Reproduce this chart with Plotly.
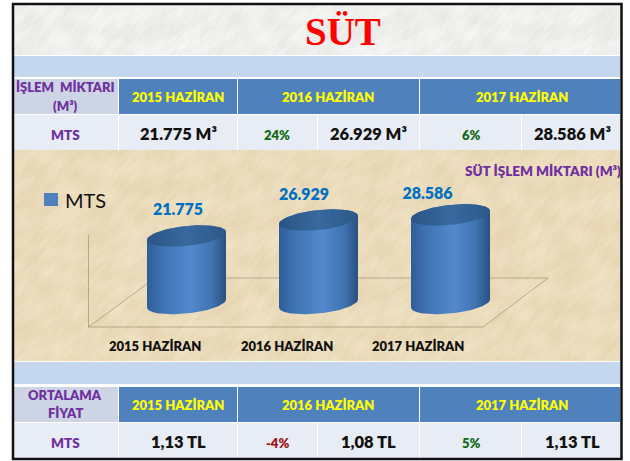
import base64, zlib, struct
import numpy as np
import plotly.graph_objects as go

CATEGORIES = ["2015 HAZİRAN", "2016 HAZİRAN", "2017 HAZİRAN"]
VOLUME = [21775, 26929, 28586]
VOLUME_LABELS = ["21.775", "26.929", "28.586"]
VOLUME_CELLS = ["21.775 M³", "26.929 M³", "28.586 M³"]
VOLUME_CHANGE = ["24%", "6%"]
PRICE_CELLS = ["1,13 TL", "1,08 TL", "1,13 TL"]
PRICE_CHANGE = ["-4%", "5%"]
SERIES = "MTS"
W, H = 630, 461

def texture(w, h, base, dark, scale, amount):
    yy, xx = np.mgrid[0:h, 0:w].astype(float)
    n = np.zeros((h, w))
    waves = [(.13, .07, 1), (.05, .19, .8), (.31, .23, .6), (.43, .61, .5), (.71, .37, .4), (.9, 1.1, .4), (1.3, .8, .4), (1.7, 2.3, .3), (2.9, 1.9, .3)]
    for i, (a, b, c) in enumerate(waves):
        n += c * np.sin(scale * (a * xx + b * yy) + i * 1.7 + 3 * np.sin(.031 * xx - .053 * yy + i * 2.1))
    n = np.clip(.5 + amount * n / 4, 0, 1)[..., None]
    img = (np.array(base) * (1 - n) + np.array(dark) * n).astype(np.uint8)
    raw = b"".join(b"\0" + r.tobytes() for r in img)
    def ch(t, d):
        return struct.pack(">I", len(d)) + t + d + struct.pack(">I", zlib.crc32(t + d))
    png = b"\x89PNG\r\n\x1a\n" + ch(b"IHDR", struct.pack(">IIBBBBB", w, h, 8, 2, 0, 0, 0)) + ch(b"IDAT", zlib.compress(raw)) + ch(b"IEND", b"")
    return "data:image/png;base64," + base64.b64encode(png).decode()

FONT = "Lato"
BLUE, PALE, GREY, BAND = "#4F81BD", "#E8ECF4", "#CDD4E4", "#C5D7EE"
YEL, PUR, GRN, RED = "#FFFF00", "#7030A0", "#0F6A12", "#A01015"

fig = go.Figure()
shapes, ann = [], []

def rect(x0, y0, x1, y1, fill):
    shapes.append(dict(type="rect", xref="paper", yref="paper", x0=x0 / W, x1=x1 / W, y0=1 - y0 / H, y1=1 - y1 / H,
                       fillcolor=fill, line_width=0, layer="below"))

def text(x, y, s, size, color, weight=800, font=FONT):
    ann.append(dict(xref="paper", yref="paper", x=x / W, y=1 - y / H, text=s, showarrow=False,
                    xanchor="center", yanchor="middle", font=dict(family=font, size=size, color=color, weight=weight)))

def table(top, label, cells, changes, label_ys):
    r1 = top + 36
    r2 = top + 71
    rect(14, top, 118, r1 - 1, GREY)
    rect(119, top, 237, r1 - 1, BLUE)
    rect(238, top, 419, r1 - 1, BLUE)
    rect(420, top, 620, r1 - 1, BLUE)
    for a, b in [(14, 118), (119, 237), (238, 317), (318, 419), (420, 521), (522, 620)]:
        rect(a, r1, b, r2, PALE)
    text(178, top + 18, CATEGORIES[0], 13, YEL)
    text(328, top + 18, CATEGORIES[1], 13, YEL)
    text(522, top + 18, CATEGORIES[2], 13, YEL)
    text(65, r1 + 20, SERIES, 13.5, PUR)
    text(178, r1 + 19, cells[0], 16.5, "#111111")
    text(277, r1 + 20, changes[0], 13, GRN if not changes[0].startswith("-") else RED)
    text(368, r1 + 19, cells[1], 16.5, "#111111")
    text(471, r1 + 20, changes[1], 13, GRN)
    text(572, r1 + 19, cells[2], 16.5, "#111111")
    for line, y in zip(label, label_ys):
        text(65, y, line, 13, PUR)

rect(14, 56, 620, 77, BAND)
rect(14, 362, 620, 384, BAND)
table(79, ["İŞLEM  MİKTARI", "(M³)"], VOLUME_CELLS, VOLUME_CHANGE, [87, 106])
table(387, ["ORTALAMA", "FİYAT"], PRICE_CELLS, PRICE_CHANGE, [395, 413])
text(343, 31, "SÜT", 39, "#FF0000", weight=700, font="Liberation Serif")
text(542.5, 171, "SÜT İŞLEM MİKTARI (M³)", 13.5, PUR)
text(85, 200, SERIES, 20, "#111111", weight=400)
rect(44, 193, 58, 206, BLUE)
for i, c in enumerate(CATEGORIES):
    text(155 + 131.5 * i, 346, c, 13, "#111111")

for x0, y0, x1, y1 in [(88.5, 235, 88.5, 327), (88.5, 327, 483, 327), (483, 327, 548, 278), (88.5, 327, 155, 278), (155, 278, 548, 278)]:
    shapes.append(dict(type="line", xref="paper", yref="paper", x0=x0 / W, x1=x1 / W, y0=1 - y0 / H, y1=1 - y1 / H,
                       line=dict(color="rgba(130,120,90,0.5)", width=1), layer="below"))

shapes.append(dict(type="rect", xref="paper", yref="paper", x0=13 / W, x1=621.5 / W, y0=1 - 4 / H, y1=1 - 459 / H,
                   line=dict(color="#111111", width=2.5), fillcolor="rgba(0,0,0,0)", layer="above"))

# value axis: zero at px 303.5, 0.0031 px per unit; category axis: 132 px per step from px 186.5
PX_PER = 0.0031
ZERO = 303.5
yr = [(ZERO - H) / PX_PER, ZERO / PX_PER]
xr = [-186.5 / 132, (W - 186.5) / 132]
HALF = 39.5 / 132
RY = 10 / PX_PER
TILT = 4 / PX_PER
LABEL_DX = [-8.5 / 132, -14.5 / 132, -23 / 132]
LABEL_DY = [25.5 / PX_PER, 24.5 / PX_PER, 19.5 / PX_PER]
t = np.linspace(0, 2 * np.pi, 121)

for i, v in enumerate(VOLUME):
    front = np.linspace(np.pi, 2 * np.pi, 61)
    xb = i + HALF * np.cos(front)
    yb = RY * np.sin(front) + TILT * np.cos(front)
    xt = xb[::-1]
    yt = v + RY * np.sin(front[::-1]) * -1 + TILT * np.cos(front[::-1])
    fig.add_trace(go.Scatter(x=np.r_[xb, xt, xb[0]], y=np.r_[yb, yt, yb[0]], mode="lines", fill="toself", line=dict(width=0),
                             fillgradient=dict(type="horizontal", colorscale=[[0, "#2F5D96"], [.2, "#3F74B4"], [.55, "#5389CE"], [.82, "#3F74B2"], [1, "#29507F"]]),
                             hoverinfo="skip", showlegend=False))
    fig.add_trace(go.Scatter(x=i + HALF * np.cos(t), y=v + RY * np.sin(t) + TILT * np.cos(t), mode="lines", fill="toself", line=dict(width=0),
                             fillgradient=dict(type="horizontal", colorscale=[[0, "#2A5484"], [.5, "#38699F"], [1, "#2B5888"]]),
                             hoverinfo="skip", showlegend=False))
    fig.add_trace(go.Scatter(x=[i + LABEL_DX[i]], y=[v + LABEL_DY[i]], mode="text", text=[VOLUME_LABELS[i]],
                             textfont=dict(family=FONT, size=16, color="#0070C0", weight=800), hoverinfo="skip", showlegend=False))

fig.update_layout(
    width=W, height=H, margin=dict(l=0, r=0, t=0, b=0), paper_bgcolor="white", plot_bgcolor="rgba(0,0,0,0)",
    xaxis=dict(range=xr, visible=False, fixedrange=True), yaxis=dict(range=yr, visible=False, fixedrange=True),
    shapes=shapes, annotations=ann, showlegend=False,
    images=[
        dict(source=texture(606, 51, (246, 246, 245), (232, 232, 229), 0.7, 0.7), xref="paper", yref="paper", x=14 / W, y=1 - 4 / H, sizex=606 / W, sizey=51 / H, sizing="stretch", layer="below"),
        dict(source=texture(608, 211, (240, 226, 196), (230, 213, 178), 0.6, 0.7), xref="paper", yref="paper", x=13 / W, y=1 - 150 / H, sizex=608 / W, sizey=211 / H, sizing="stretch", layer="below"),
    ],
)
fig.write_html("out.html", post_script="document.body.style.margin='0';document.body.style.overflow='hidden';", config={"displayModeBar": False})
